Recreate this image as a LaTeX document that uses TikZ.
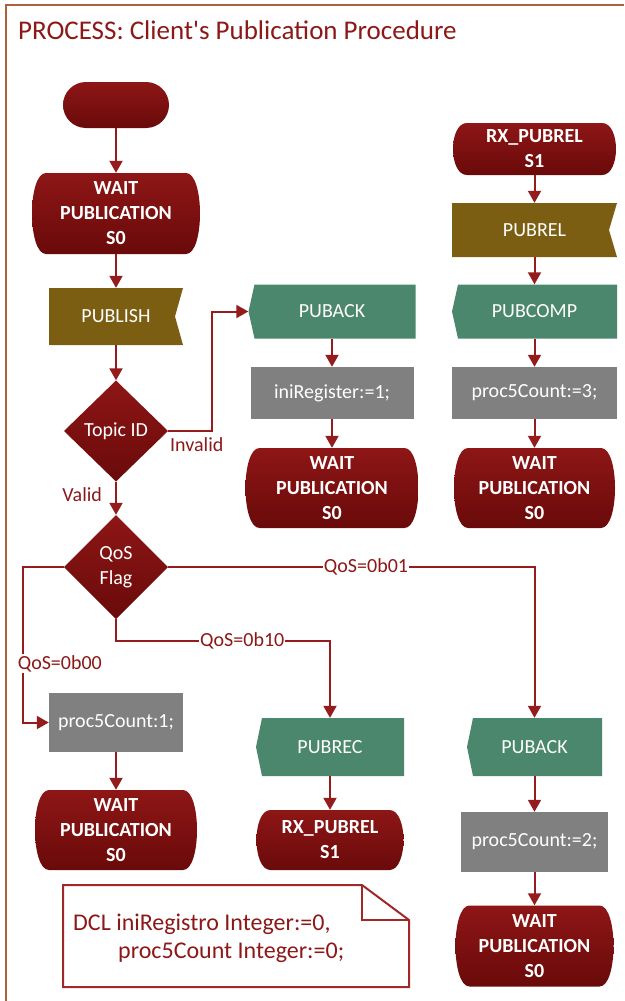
\documentclass[tikz,border=0pt]{standalone}
\usepackage{fontspec}
\setmainfont{Carlito}
\usetikzlibrary{arrows.meta,calc}

\definecolor{framec}{RGB}{172,98,62}
\definecolor{ink}{RGB}{140,24,24}
\definecolor{lnk}{RGB}{148,28,28}
\definecolor{stA}{RGB}{142,22,22}
\definecolor{stB}{RGB}{106,10,10}
\definecolor{sigOut}{RGB}{124,94,18}
\definecolor{sigIn}{RGB}{74,135,108}
\definecolor{taskGray}{RGB}{128,128,128}
\definecolor{noteRed}{RGB}{160,40,40}

\tikzset{
  lbl/.style={text=ink, font=\fontsize{20}{24}\selectfont, inner sep=1pt},
  lblw/.style={lbl, fill=white},
  flow/.style={draw=lnk, line width=2pt, -{Triangle[width=13pt,length=12pt]}},
  shp/.style 2 args={inner sep=0pt, text=white, align=center,
    font=\fontsize{20}{25}\selectfont, minimum width=#1pt, minimum height=#2pt},
  % SDL state: flat top and bottom, bulging sides
  statebox/.style 2 args={shp={#1}{#2}, font=\fontsize{20}{25}\selectfont\bfseries,
    path picture={\shade[top color=stA, bottom color=stB]
      let \p1=(path picture bounding box.south west),
          \p2=(path picture bounding box.north east) in
      (\x1+14pt,\y2) -- (\x2-14pt,\y2)
      .. controls (\x2+4.67pt,\y2) and (\x2+4.67pt,\y1) .. (\x2-14pt,\y1)
      -- (\x1+14pt,\y1)
      .. controls (\x1-4.67pt,\y1) and (\x1-4.67pt,\y2) .. cycle;}},
  % SDL decision
  decision/.style 2 args={shp={#1}{#2},
    path picture={\shade[top color=stA, bottom color=stB]
      (path picture bounding box.north) -- (path picture bounding box.east)
      -- (path picture bounding box.south) -- (path picture bounding box.west) -- cycle;}},
  % SDL output signal: notch on the right
  sendbox/.style 2 args={shp={#1}{#2},
    path picture={\fill[sigOut]
      let \p1=(path picture bounding box.south west),
          \p2=(path picture bounding box.north east),
          \p3=(path picture bounding box.east) in
      (\x1,\y2) -- (\x2,\y2) -- (\x2-8pt,\y3) -- (\x2,\y1) -- (\x1,\y1) -- cycle;}},
  % SDL input signal: point on the left
  recvbox/.style 2 args={shp={#1}{#2},
    path picture={\fill[sigIn]
      let \p1=(path picture bounding box.south west),
          \p2=(path picture bounding box.north east),
          \p3=(path picture bounding box.west) in
      (\x1+6pt,\y2) -- (\x2,\y2) -- (\x2,\y1) -- (\x1+6pt,\y1) -- (\x3,\y3) -- cycle;}},
  taskbox/.style 2 args={shp={#1}{#2}, fill=taskGray},
  termbox/.style 2 args={shp={#1}{#2}, rounded corners=23pt, top color=stA, bottom color=stB},
  notec/.style={draw=noteRed, line width=2pt, line join=miter},
}

\begin{document}
\begin{tikzpicture}[x=1pt,y=1pt]
\useasboundingbox (0,0) rectangle (624,-1001);

% frame
\draw[framec, line width=2pt] (6,-1001) -- (6,-5) -- (624,-5);

\node[anchor=base west, text=ink, font=\fontsize{27}{32}\selectfont, inner sep=0pt]
  (title) at (18,-39) {PROCESS: Client\textquotesingle s Publication Procedure};

% left column
\node[termbox={106}{46}] (start) at (116,-105) {};
\node[statebox={168}{81}] (wait1) at (116,-213.5) {WAIT\\PUBLICATION\\S0};
\node[sendbox={134}{57}] (publish) at (116,-316.5) {PUBLISH};
\node[decision={104}{101}] (topic) at (116,-431) {Topic ID};
\node[decision={104}{104}] (qos) at (116,-567) {QoS\\Flag};
\node[taskbox={134}{59}] (proc1) at (116,-722.5) {proc5Count:1;};
\node[statebox={162}{80}] (wait4) at (116,-830) {WAIT\\PUBLICATION\\S0};

% middle column
\node[recvbox={167}{54}] (puback1) at (332,-311.5) {PUBACK};
\node[taskbox={163}{52}] (inireg) at (332,-393) {iniRegister:=1;};
\node[statebox={173}{80}] (wait2) at (332,-488) {WAIT\\PUBLICATION\\S0};
\node[recvbox={148}{58}] (pubrec) at (330,-747) {PUBREC};
\node[statebox={147}{60}] (rx2) at (330,-840) {RX\_PUBREL\\S1};

% right column
\node[statebox={163}{52}] (rx1) at (534.5,-149) {RX\_PUBREL\\S1};
\node[sendbox={165}{54}] (pubrel) at (534.5,-230) {PUBREL};
\node[recvbox={165}{54}] (pubcomp) at (534.5,-311.5) {PUBCOMP};
\node[taskbox={165}{52}] (proc3) at (534.5,-393) {proc5Count:=3;};
\node[statebox={161}{80}] (wait3) at (534.5,-488) {WAIT\\PUBLICATION\\S0};
\node[recvbox={135}{58}] (puback2) at (534.5,-747) {PUBACK};
\node[taskbox={147}{60}] (proc2) at (534.5,-842) {proc5Count:=2;};
\node[statebox={158}{81}] (wait5) at (534.5,-946) {WAIT\\PUBLICATION\\S0};

% connectors
\draw[flow] (start) -- (wait1);
\draw[flow] (wait1) -- (publish);
\draw[flow] (publish) -- (topic);
\draw[flow] (topic) -- node[lbl, anchor=east, pos=0.4, xshift=-12pt] {Valid} (qos);
\draw[flow] (topic.east) node[lbl, anchor=north west, yshift=-5pt] {Invalid}
  -- ++(44,0) |- (puback1);
\draw[flow] (puback1) -- (inireg);
\draw[flow] (inireg) -- (wait2);

\draw[flow] (qos.west) -- ++(-41,0) |- node[lblw, anchor=west, xshift=-7pt, pos=0.31] {QoS=0b00} (proc1);
\draw[flow] (proc1) -- (wait4);
\draw[flow] (qos.south) -- ++(0,-22) -| node[lblw, pos=0.295] {QoS=0b10} (pubrec);
\draw[flow] (pubrec) -- (rx2);
\draw[flow] (qos.east) -| node[lblw, pos=0.27] {QoS=0b01} (puback2);
\draw[flow] (puback2) -- (proc2);
\draw[flow] (proc2) -- (wait5);

\draw[flow] (rx1) -- (pubrel);
\draw[flow] (pubrel) -- (pubcomp);
\draw[flow] (pubcomp) -- (proc3);
\draw[flow] (proc3) -- (wait3);

% declaration note with folded corner
\draw[notec] (63,-885) -- (362,-885) -- (409,-920) -- (409,-987) -- (63,-987) -- cycle;
\draw[notec] (362,-885) -- (362,-920) -- (409,-920);
\node[anchor=base west, text=ink, align=left, inner sep=0pt,
  font=\fontsize{24}{28}\selectfont] (dcl) at (73,-958)
  {DCL iniRegistro Integer:=0,\\\hspace*{45pt}proc5Count Integer:=0;};
\end{tikzpicture}
\end{document}
